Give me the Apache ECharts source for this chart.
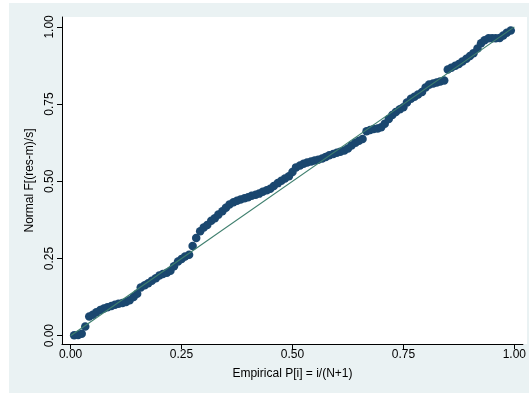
<!DOCTYPE html>
<html><head><meta charset="utf-8">
<script src="https://cdn.jsdelivr.net/npm/echarts@6/dist/echarts.min.js"></script>
<style>html,body{margin:0;padding:0;background:#fff}#c{width:529px;height:394px}</style>
</head><body><div id="c"></div>
<script>
// Empirical P[i] = i/(N+1)
const empirical = [
0.008,0.017,0.025,0.033,0.042,0.050,0.058,0.067,0.075,0.083,
0.092,0.100,0.108,0.117,0.125,0.133,0.142,0.150,0.158,0.167,
0.175,0.183,0.192,0.200,0.208,0.217,0.225,0.233,0.242,0.250,
0.258,0.267,0.275,0.283,0.292,0.300,0.308,0.317,0.325,0.333,
0.342,0.350,0.358,0.367,0.375,0.383,0.392,0.400,0.408,0.417,
0.425,0.433,0.442,0.450,0.458,0.467,0.475,0.483,0.492,0.500,
0.508,0.517,0.525,0.533,0.542,0.550,0.558,0.567,0.575,0.583,
0.592,0.600,0.608,0.617,0.625,0.633,0.642,0.650,0.658,0.667,
0.675,0.683,0.692,0.700,0.708,0.717,0.725,0.733,0.742,0.750,
0.758,0.767,0.775,0.783,0.792,0.800,0.808,0.817,0.825,0.833,
0.842,0.850,0.858,0.867,0.875,0.883,0.892,0.900,0.908,0.917,
0.925,0.933,0.942,0.950,0.958,0.967,0.975,0.983,0.992
];
// Normal F[(res-m)/s]
const normalF = [
0.001,0.002,0.006,0.030,0.062,0.068,0.076,0.083,0.088,0.092,
0.096,0.100,0.103,0.106,0.109,0.115,0.125,0.136,0.156,0.163,
0.170,0.178,0.186,0.195,0.200,0.204,0.210,0.225,0.240,0.248,
0.256,0.262,0.290,0.316,0.338,0.350,0.358,0.372,0.380,0.392,
0.403,0.414,0.425,0.432,0.437,0.441,0.445,0.448,0.453,0.456,
0.460,0.466,0.471,0.476,0.485,0.494,0.502,0.509,0.516,0.530,
0.545,0.551,0.557,0.561,0.564,0.567,0.570,0.574,0.579,0.584,
0.588,0.592,0.596,0.600,0.606,0.616,0.625,0.631,0.637,0.662,
0.666,0.669,0.671,0.675,0.686,0.702,0.715,0.724,0.733,0.740,
0.755,0.767,0.774,0.781,0.789,0.804,0.813,0.817,0.820,0.823,
0.826,0.862,0.868,0.874,0.880,0.888,0.897,0.906,0.915,0.930,
0.947,0.957,0.963,0.963,0.963,0.964,0.972,0.981,0.988
];
const refLineX = [0, 1];
const refLineY = [0, 1];
const tickValues = [0, 0.25, 0.5, 0.75, 1];
const tickLabels = ['0.00', '0.25', '0.50', '0.75', '1.00'];

const chart = echarts.init(document.getElementById('c'), null, {renderer: 'canvas'});
const font = 'Liberation Sans, Arial, Helvetica, sans-serif';
const labelFmt = v => { const i = tickValues.findIndex(t => Math.abs(t - v) < 1e-9); return i >= 0 ? tickLabels[i] : ''; };
chart.setOption({
  animation: false,
  backgroundColor: '#ffffff',
  graphic: [{
    type: 'rect', z: -10, silent: true,
    shape: {x: 9, y: 3, width: 520, height: 390},
    style: {fill: '#eaf2f3'}
  }, {
    type: 'rect', z: -9, silent: true,
    shape: {x: 62, y: 17, width: 465, height: 327},
    style: {fill: '#ffffff'}
  }],
  grid: {left: 62, top: 17, right: 2, bottom: 50, containLabel: false},
  xAxis: {
    type: 'value', min: -0.0194, max: 1.0194,
    name: 'Empirical P[i] = i/(N+1)', nameLocation: 'middle', nameGap: 24,
    nameTextStyle: {color: '#000', fontSize: 12, fontFamily: font},
    axisLine: {show: true, onZero: false, lineStyle: {color: '#000', width: 1}},
    axisTick: {show: true, length: 5, customValues: tickValues, lineStyle: {color: '#000'}},
    axisLabel: {customValues: tickValues, formatter: labelFmt, color: '#000', fontSize: 12, fontFamily: font, margin: 5},
    splitLine: {show: false}
  },
  yAxis: {
    type: 'value', min: -0.027, max: 1.032,
    name: 'Normal F[(res-m)/s]', nameLocation: 'middle', nameGap: 26, nameRotate: 90,
    nameTextStyle: {color: '#000', fontSize: 12, fontFamily: font},
    axisLine: {show: true, onZero: false, lineStyle: {color: '#000', width: 1}},
    axisTick: {show: true, length: 5, customValues: tickValues, lineStyle: {color: '#000'}},
    axisLabel: {customValues: tickValues, formatter: labelFmt, rotate: 90, color: '#000', fontSize: 12, fontFamily: font, margin: 6},
    splitLine: {show: false}
  },
  series: [{
    type: 'scatter',
    data: empirical.map((x, i) => [x, normalF[i]]),
    symbol: 'circle', symbolSize: 8.5,
    itemStyle: {color: '#1a476f', opacity: 1},
    z: 2
  }, {
    type: 'line',
    data: refLineX.map((x, i) => [x, refLineY[i]]),
    symbol: 'none',
    lineStyle: {color: '#3f7f6e', width: 1.2},
    z: 3
  }]
});
</script></body></html>
